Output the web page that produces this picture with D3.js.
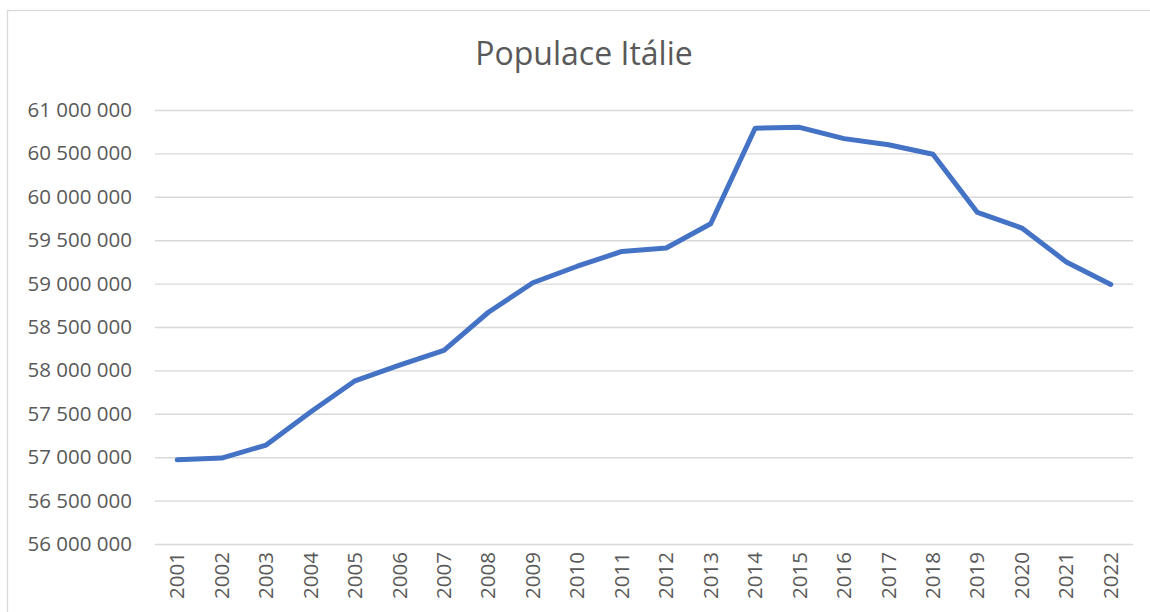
<!DOCTYPE html>
<html>
<head>
<meta charset="utf-8">
<script src="https://cdn.jsdelivr.net/npm/d3@7"></script>
<style>
  html, body { margin: 0; padding: 0; background: #fff; }
  svg { display: block; }
</style>
</head>
<body>
<svg id="chart" width="1150" height="612"></svg>
<script>
const years = ["2001","2002","2003","2004","2005","2006","2007","2008","2009","2010","2011",
               "2012","2013","2014","2015","2016","2017","2018","2019","2020","2021","2022"];
const population = [56970000, 56990000, 57140000, 57520000, 57880000, 58060000, 58230000,
                    58670000, 59010000, 59200000, 59370000, 59410000, 59690000, 60790000,
                    60800000, 60670000, 60600000, 60490000, 59820000, 59640000, 59250000, 58990000];
const yTicks = [56000000, 56500000, 57000000, 57500000, 58000000, 58500000, 59000000,
                59500000, 60000000, 60500000, 61000000];
const titleText = "Populace Itálie";

const svg = d3.select("#chart");
const m = { left: 155, right: 1133, top: 110, bottom: 544 };

svg.append("rect")
  .attr("x", 7.5).attr("y", 10.5)
  .attr("width", 1160).attr("height", 620)
  .attr("fill", "#fff").attr("stroke", "#d9d9d9").attr("stroke-width", 1.3);

const x = d3.scaleBand().domain(years).range([m.left, m.right]).paddingInner(0).paddingOuter(0);
const y = d3.scaleLinear().domain([56000000, 61000000]).range([m.bottom, m.top]);

const loc = d3.formatLocale({ decimal: ",", thousands: " ", grouping: [3], currency: ["", ""] });
const fmt = loc.format(",d");

const font = "'Open Sans', 'Liberation Sans', sans-serif";

const yAxis = d3.axisLeft(y).tickValues(yTicks).tickFormat(fmt)
  .tickSize(-(m.right - m.left)).tickPadding(23);
const gy = svg.append("g").attr("transform", `translate(${m.left},0)`).call(yAxis);
gy.select(".domain").remove();
gy.selectAll(".tick line").attr("stroke", "#d9d9d9").attr("stroke-width", 1.4);
gy.selectAll(".tick text")
  .attr("fill", "#595959").style("font-family", font).style("font-size", "20.5px");

const xAxis = d3.axisBottom(x).tickSize(0).tickPadding(0);
const gx = svg.append("g").attr("transform", `translate(0,${m.bottom})`).call(xAxis);
gx.select(".domain").remove();
gx.selectAll(".tick text")
  .attr("fill", "#595959").style("font-family", font).style("font-size", "20.5px")
  .attr("text-anchor", "end")
  .attr("dy", null)
  .attr("transform", "translate(7,8) rotate(-90)")
  .attr("x", 0).attr("y", 0);

const line = d3.line()
  .x((d, i) => x(years[i]) + x.bandwidth() / 2)
  .y(d => y(d));
svg.append("path")
  .datum(population)
  .attr("d", line)
  .attr("fill", "none")
  .attr("stroke", "#4472c4")
  .attr("stroke-width", 5)
  .attr("stroke-linejoin", "round")
  .attr("stroke-linecap", "round");

svg.append("text")
  .attr("x", 584).attr("y", 65)
  .attr("text-anchor", "middle")
  .attr("fill", "#595959")
  .style("font-family", font).style("font-size", "32px")
  .text(titleText);
</script>
</body>
</html>
